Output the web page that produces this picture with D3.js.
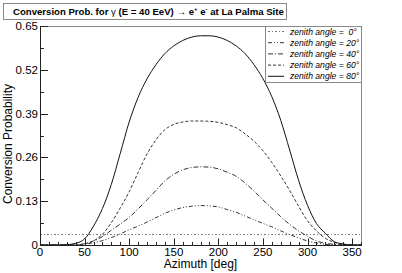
<!DOCTYPE html>
<html>
<head>
<meta charset="utf-8">
<script src="https://cdn.jsdelivr.net/npm/d3@7"></script>
<style>
html,body{margin:0;padding:0;background:#fff;}
svg{display:block;font-family:"Liberation Sans",Arial,sans-serif;}
</style>
</head>
<body>
<svg id="chart" width="402" height="273"></svg>
<script>
/* ── data ── */
var azimuth=[0,10,20,30,40,50,60,70,80,90,100,110,120,130,140,150,160,170,180,
  190,200,210,220,230,240,250,260,270,280,290,300,310,320,330,340,350,360];
var zen0 =[0.031,0.031,0.031,0.031,0.031,0.031,0.031,0.031,0.031,0.031,0.031,0.031,0.031,0.031,0.031,0.031,0.031,0.031,0.031,
  0.031,0.031,0.031,0.031,0.031,0.031,0.031,0.031,0.031,0.031,0.031,0.031,0.031,0.031,0.031,0.031,0.031,0.031];
var zen20=[0,0,0,0,0,0.002,0.007,0.013,0.022,0.033,0.045,0.056,0.068,0.081,0.094,0.104,0.111,0.115,0.117,
  0.116,0.113,0.105,0.097,0.086,0.075,0.064,0.054,0.042,0.031,0.021,0.012,0.006,0.002,0,0,0,0];
var zen40=[0,0,0,0,0,0.004,0.012,0.025,0.044,0.062,0.082,0.107,0.134,0.162,0.190,0.210,0.223,0.230,0.232,
  0.231,0.226,0.216,0.204,0.184,0.160,0.134,0.109,0.084,0.061,0.042,0.026,0.012,0.005,0.002,0,0,0];
var zen60=[0,0,0,0,0,0.003,0.012,0.032,0.066,0.110,0.158,0.215,0.270,0.312,0.342,0.358,0.365,0.368,0.368,
  0.367,0.364,0.357,0.348,0.330,0.308,0.280,0.245,0.205,0.162,0.115,0.072,0.042,0.020,0.008,0.002,0,0];
var zen80=[0,0,0,0.001,0.005,0.018,0.056,0.108,0.180,0.272,0.365,0.438,0.493,0.535,0.568,0.591,0.607,0.617,0.621,
  0.621,0.617,0.607,0.591,0.568,0.535,0.494,0.440,0.370,0.282,0.192,0.118,0.064,0.035,0.010,0.003,0,0];
var seriesNames=['zenith angle =  0\u00b0','zenith angle = 20\u00b0','zenith angle = 40\u00b0',
  'zenith angle = 60\u00b0','zenith angle = 80\u00b0'];
var yTicks=[0,0.13,0.26,0.39,0.52,0.65];
var yTickLabels=['0','0.13','0.26','0.39','0.52','0.65'];
var xTicks=[0,50,100,150,200,250,300,350];

/* ── layout ── */
var svg=d3.select('#chart');
var PL=40, PR=361, PT=26, PB=245;
var x=d3.scaleLinear().domain([0,360]).range([PL,PR]);
var y=d3.scaleLinear().domain([0,0.65]).range([PB,PT]);

var styles=[
  {dash:'2,2,1,2', col:'#777'},
  {dash:'4,2,1,2,1,2', col:'#333'},
  {dash:'5,2,1,2', col:'#333'},
  {dash:'3,2', col:'#333'},
  {dash:null, col:'#111'}
];
var allSeries=[zen0,zen20,zen40,zen60,zen80];

/* frame */
svg.append('rect').attr('x',PL+0.5).attr('y',PT+0.5).attr('width',PR-PL).attr('height',PB-PT)
  .attr('fill','none').attr('stroke','#888').attr('stroke-width',1);

/* curves */
var line=d3.line().x(function(d){return x(d[0]);}).y(function(d){return y(d[1]);}).curve(d3.curveMonotoneX);
allSeries.forEach(function(s,i){
  var pts=azimuth.map(function(a,j){return [a,s[j]];});
  svg.append('path').attr('d',line(pts)).attr('fill','none')
    .attr('stroke',styles[i].col).attr('stroke-width',1)
    .attr('stroke-dasharray',styles[i].dash);
});

/* y axis with inward ticks */
d3.range(0,0.6501,0.065).forEach(function(v){
  var major=Math.round(v/0.065)%2===0;
  svg.append('line').attr('x1',PL).attr('x2',PL+(major?8:4))
    .attr('y1',Math.round(y(v))+0.5).attr('y2',Math.round(y(v))+0.5)
    .attr('stroke','#222').attr('stroke-width',1);
});
svg.append('line').attr('x1',PL+0.5).attr('x2',PL+0.5).attr('y1',PT).attr('y2',PB+1).attr('stroke','#222');
yTicks.forEach(function(v,i){
  svg.append('text').attr('x',PL-2).attr('y',y(v)+4).attr('text-anchor','end')
    .attr('font-size','11.5').attr('fill','#000').text(yTickLabels[i]);
});

/* x axis with inward ticks */
d3.range(0,361,10).forEach(function(v){
  var major=v%50===0;
  svg.append('line').attr('x1',Math.round(x(v))+0.5).attr('x2',Math.round(x(v))+0.5)
    .attr('y1',PB+0.5).attr('y2',PB+0.5-(major?7:3.5))
    .attr('stroke','#222').attr('stroke-width',1);
});
svg.append('line').attr('x1',PL).attr('x2',PR+1).attr('y1',PB+0.5).attr('y2',PB+0.5).attr('stroke','#222');
xTicks.forEach(function(v){
  svg.append('text').attr('x',x(v)).attr('y',255.5).attr('text-anchor','middle')
    .attr('font-size','11.5').attr('fill','#000').text(v);
});

/* axis titles */
svg.append('text').attr('x',200.5).attr('y',268).attr('text-anchor','middle')
  .attr('font-size','12').text('Azimuth [deg]');
svg.append('text').attr('transform','translate(12,144) rotate(-90)').attr('text-anchor','middle')
  .attr('font-size','12').text('Conversion Probability');

/* legend */
var LX=265, LY=26, LW=96, LH=56;
svg.append('rect').attr('x',LX+0.5).attr('y',LY+0.5).attr('width',LW).attr('height',LH)
  .attr('fill','#fff').attr('stroke','#888');
seriesNames.forEach(function(n,i){
  var cy=LY+5.5+i*11.2;
  svg.append('line').attr('x1',LX+3).attr('x2',LX+19).attr('y1',cy).attr('y2',cy)
    .attr('stroke',styles[i].col).attr('stroke-dasharray',styles[i].dash);
  svg.append('text').attr('x',LX+25).attr('y',cy+3).attr('font-size','8.6').attr('font-style','italic')
    .attr('xml:space','preserve').text(n);
});

/* title box */
svg.append('rect').attr('x',3.5).attr('y',3.5).attr('width',283).attr('height',16)
  .attr('fill','#fff').attr('stroke','#888');
var t=svg.append('text').attr('x',13).attr('y',15).attr('font-size','9.6').attr('font-weight','bold');
t.append('tspan').text('Conversion Prob. for ');
t.append('tspan').attr('font-weight','normal').text('\u03b3');
t.append('tspan').text(' (E = 40 EeV) ');
t.append('tspan').attr('font-weight','normal').text('\u2192');
t.append('tspan').text(' e');
t.append('tspan').attr('font-size','6').attr('dy','-4').text('+');
t.append('tspan').attr('dy','4').text(' e');
t.append('tspan').attr('font-size','6').attr('dy','-4').text('-');
t.append('tspan').attr('dy','4').text(' at La Palma Site');
</script>
</body>
</html>
